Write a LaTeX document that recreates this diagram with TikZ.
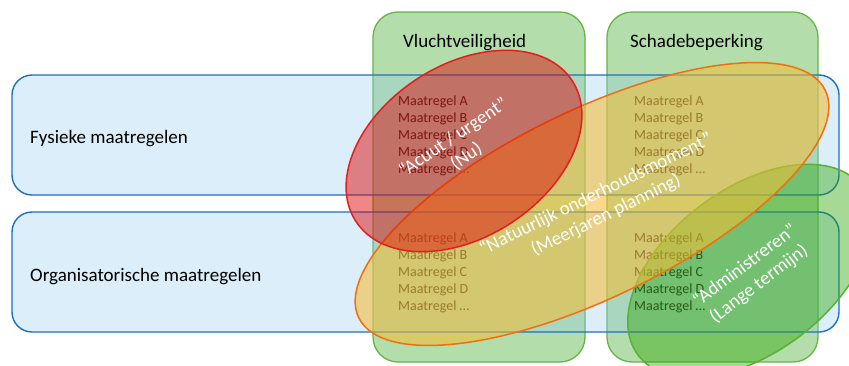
\documentclass[tikz,border=0pt]{standalone}
\usepackage{fontspec}
\setmainfont{Carlito}
\usetikzlibrary{shapes.geometric}

\definecolor{rowblue}{RGB}{145,202,236}
\definecolor{rowline}{RGB}{31,111,192}
\definecolor{colfill}{RGB}{179,221,171}
\definecolor{colline}{RGB}{100,180,70}
\definecolor{redfill}{RGB}{223,0,0}
\definecolor{redline}{RGB}{227,30,30}
\definecolor{yelfill}{RGB}{246,188,51}
\definecolor{yelline}{RGB}{240,112,16}
\definecolor{grnfill}{RGB}{40,163,0}
\definecolor{grnline}{RGB}{90,176,50}
\definecolor{listtext}{RGB}{40,40,40}

\begin{document}
\begin{tikzpicture}[x=1pt,y=-1pt,
  colbox/.style={draw=colline, line width=1.3pt, fill=colfill, rounded corners=25pt,
    minimum width=212pt, minimum height=350pt, inner sep=0pt},
  rowbox/.style={draw=rowline, line width=1.4pt, fill=rowblue, fill opacity=0.32,
    rounded corners=20pt, minimum width=827pt, minimum height=120pt, inner sep=0pt},
  heading/.style={anchor=base west, inner sep=0pt, text=black,
    font=\fontsize{19}{23}\selectfont},
  listitem/.style={anchor=base west, inner sep=0pt, text=listtext,
    font=\fontsize{14}{17}\selectfont},
  blob/.style={ellipse, line width=1.5pt, inner sep=0pt},
  blobtext/.style={text=white, align=center, inner sep=0pt,
    font=\fontsize{19}{23}\selectfont}
]
\clip (0,0) rectangle (849,365);

% columns
\node[colbox] (vlucht) at (479,187) {};
\node[colbox, minimum width=211pt] (schade) at (712.5,187) {};

% rows
\node[rowbox] (fysiek) at (425.5,135) {};
\node[rowbox] (organ) at (425.5,272) {};

% headings
\node[heading] (tvlucht) at (403,47) {Vluchtveiligheid};
\node[heading] (tschade) at (630,47) {Schadebeperking};
\node[heading] (tfysiek) at (30,143) {Fysieke maatregelen};
\node[heading] (torgan) at (30,281) {Organisatorische maatregelen};

% lists of measures
\foreach \lt [count=\i from 0] in {A,B,C,D,…} {
  \node[listitem] (vf\i) at (398,105+17*\i) {Maatregel \lt};
  \node[listitem] (vo\i) at (398,242+17*\i) {Maatregel \lt};
  \node[listitem] (sf\i) at (634,105+17*\i) {Maatregel \lt};
  \node[listitem] (so\i) at (634,242+17*\i) {Maatregel \lt};
}

% overlapping time horizons
\node[blob, draw=grnline, fill=grnfill, fill opacity=0.41,
  minimum width=280pt, minimum height=164pt, rotate=37] (admin) at (750,271) {};
\node[blob, draw=yelline, fill=yelfill, fill opacity=0.56,
  minimum width=519pt, minimum height=187pt, rotate=26] (natuur) at (592,204) {};
\node[blob, draw=redline, fill=redfill, fill opacity=0.47,
  minimum width=258pt, minimum height=172pt, rotate=33] (acuut) at (464,151) {};

% labels of the time horizons
\node[blobtext, rotate=34] (lacuut) at (460,147) {“Acuut / urgent”\\(Nu)};
\node[blobtext, rotate=26] (lnatuur) at (601,205) {“Natuurlijk onderhoudsmoment”\\(Meerjaren planning)};
\node[blobtext, rotate=37] (ladmin) at (752,275) {“Administreren”\\(Lange termijn)};
\end{tikzpicture}
\end{document}
